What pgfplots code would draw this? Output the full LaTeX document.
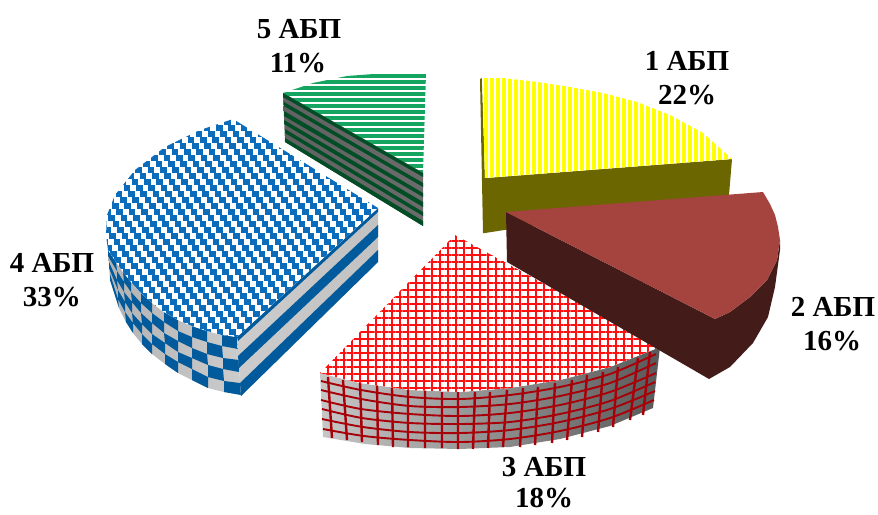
\documentclass[border=0pt]{standalone}
\usepackage{fontspec}
\setmainfont{Liberation Serif}
\usepackage{pgfplots}
\pgfplotsset{compat=1.18}
\usepackage{pgfplotstable}
\usetikzlibrary{patterns.meta}
\definecolor{yel}{HTML}{FFFF00}
\definecolor{olive}{HTML}{6B6600}
\definecolor{brickT}{HTML}{A5443F}
\definecolor{brickS}{HTML}{431C19}
\definecolor{redT}{HTML}{FF1010}
\definecolor{redS}{HTML}{A80008}
\definecolor{blueT}{HTML}{0B6CBB}
\definecolor{blueS}{HTML}{005A9C}
\definecolor{greenT}{HTML}{14A660}
\definecolor{greenS}{HTML}{004D26}
% --- slice outlines, in picture pixels
\pgfplotstableread{
x y
482 78
503 78
537 82
570 87
603 93
637 102
670 115
703 133
732 159
485 178
}\yellowtop
\pgfplotstableread{
x y
480 79
482 78
485 178
732 159
729 195
485 233
483 233
}\yellowside
\pgfplotstableread{
x y
283 93
313 83
347 76
387 73
426 73
423 173
}\greentop
\pgfplotstableread{
x y
378 208
237 337
222 335
207 331
192 326
178 320
164 312
152 303
141 293
131 282
123 272
116 262
108 250
106 235
107 215
115 195
135 170
165 147
200 130
233 119
}\bluetop
\pgfplotstableread{
x y
237 337
222 335
207 331
192 326
178 320
164 312
152 303
141 293
131 282
123 272
116 262
108 250
108 250
110 280
119 308
126 322
133 333
142 344
152 354
165 364
178 373
192 380
208 388
224 392
241 395
}\blueside
\pgfplotstableread{
x y
237 337
378 208
378 262
241 396
}\bluerad
\pgfplotstableread{
x y
455 235
320 373
360 383
410 390
460 392
510 388
560 380
610 367
660 347
}\redtop
\pgfplotstableread{
x y
320 373
360 383
410 390
460 392
510 388
560 380
610 367
660 347
653 408
610 426
560 439
510 447
460 449
410 448
365 444
323 437
}\redside
\pgfplotstableread{
x y
506 212
763 192
770 204
775 215
778 227
780 240
777 260
767 280
750 297
730 312
715 319
}\bricktop
\pgfplotstableread{
x y
506 212
715 319
730 312
750 297
767 280
777 260
780 240
780 250
775 287
768 317
753 343
730 367
709 379
507 262
}\brickside
\begin{document}
\begin{tikzpicture}
\path (0,0) rectangle (878pt,514pt);
\begin{axis}[
  at={(0,0)}, anchor=south west,
  scale only axis, width=878pt, height=514pt,
  xmin=0, xmax=878, ymin=0, ymax=514, y dir=reverse,
  hide axis, unbounded coords=jump,
]
% 1 ABP
\addplot[fill=olive,draw=none] table {\yellowside};
\addplot[fill=white,draw=none] table {\yellowtop};
\addplot[draw=none,pattern={Lines[angle=90,distance=6pt,line width=3.6pt]},pattern color=yel] table {\yellowtop};
% 5 ABP
\addplot[fill=white,draw=none] table {\greentop};
\addplot[draw=none,pattern={Lines[angle=0,distance=6pt,line width=3.2pt]},pattern color=greenT] table {\greentop};
\addplot[draw=none,left color=black!62,right color=black!58] coordinates {(283,93)(423,173)(423,226)(285,142)};
\addplot[draw=none,fill=greenS] coordinates {
(283,93)(423,173)(423,177)(283,97)(nan,nan)
(284,102)(423,183)(423,187)(284,106)(nan,nan)
(284,111)(423,193)(423,197)(284,116)(nan,nan)
(284,120)(423,202)(423,207)(284,124)(nan,nan)
(285,129)(423,212)(423,216)(285,133)(nan,nan)
(285,138)(423,221)(423,226)(285,142)};
% 4 ABP
\addplot[draw=none,left color=black!30,right color=black!20] table {\blueside};
\addplot[draw=none,fill=blueS] coordinates {
(237,337)(222,335)(222,346)(238,349)(nan,nan)
(239,360)(223,358)(223,369)(239,372)(nan,nan)
(240,383)(224,381)(224,392)(241,395)(nan,nan)
(222,346)(207,342)(207,354)(223,358)(nan,nan)
(223,369)(208,365)(208,377)(224,381)(nan,nan)
(207,331)(192,326)(192,337)(207,342)(nan,nan)
(207,354)(192,348)(192,358)(208,365)(nan,nan)
(208,377)(192,369)(192,380)(208,388)(nan,nan)
(192,337)(178,331)(178,341)(192,348)(nan,nan)
(192,358)(178,352)(178,362)(192,369)(nan,nan)
(178,320)(164,312)(164,322)(178,331)(nan,nan)
(178,341)(164,333)(165,343)(178,352)(nan,nan)
(178,362)(165,354)(165,364)(178,373)(nan,nan)
(164,322)(152,313)(152,323)(164,333)(nan,nan)
(165,343)(152,334)(152,344)(165,354)(nan,nan)
(152,303)(141,293)(141,303)(152,313)(nan,nan)
(152,323)(141,313)(142,324)(152,334)(nan,nan)
(152,344)(142,334)(142,344)(152,354)(nan,nan)
(141,303)(131,292)(132,302)(141,313)(nan,nan)
(142,324)(132,313)(133,323)(142,334)(nan,nan)
(131,282)(123,272)(124,282)(131,292)(nan,nan)
(132,302)(124,292)(125,302)(132,313)(nan,nan)
(133,323)(125,312)(126,322)(133,333)(nan,nan)
(124,282)(117,271)(117,280)(124,292)(nan,nan)
(125,302)(118,290)(118,299)(125,312)(nan,nan)
(116,262)(108,250)(108,256)(117,271)(nan,nan)
(117,280)(109,262)(109,268)(118,290)(nan,nan)
(118,299)(110,274)(110,280)(119,308)};
\addplot[draw=none,left color=black!20,right color=black!24] table {\bluerad};
\addplot[draw=none,fill=blueS] coordinates {
(237,337)(378,208)(378,212)(238,341)(nan,nan)
(238,356)(378,225)(378,237)(239,368)(nan,nan)
(240,383)(378,250)(378,262)(241,396)};
\addplot[fill=white,draw=none] table {\bluetop};
\begin{scope}
\clip (axis cs:378,208) -- (axis cs:237,337) -- (axis cs:222,335) -- (axis cs:207,331) -- (axis cs:192,326) -- (axis cs:178,320) -- (axis cs:164,312) -- (axis cs:152,303) -- (axis cs:141,293) -- (axis cs:131,282) -- (axis cs:123,272) -- (axis cs:116,262) -- (axis cs:108,250) -- (axis cs:106,235) -- (axis cs:107,215) -- (axis cs:115,195) -- (axis cs:135,170) -- (axis cs:165,147) -- (axis cs:200,130) -- (axis cs:233,119) -- cycle;
\addplot[blueT,line width=6pt,dash pattern=on 6.6pt off 5.8pt] coordinates {
(100,122)(385,122)(nan,nan)(104.4,128)(385,128)(nan,nan)
(96.4,134)(385,134)(nan,nan)(100.8,140)(385,140)(nan,nan)
(92.8,146)(385,146)(nan,nan)(97.2,152)(385,152)(nan,nan)
(89.2,158)(385,158)(nan,nan)(93.6,164)(385,164)(nan,nan)
(85.6,170)(385,170)(nan,nan)(90,176)(385,176)(nan,nan)
(82,182)(385,182)(nan,nan)(86.4,188)(385,188)(nan,nan)
(78.4,194)(385,194)(nan,nan)(82.8,200)(385,200)(nan,nan)
(74.8,206)(385,206)(nan,nan)(79.2,212)(385,212)(nan,nan)
(71.2,218)(385,218)(nan,nan)(75.6,224)(385,224)(nan,nan)
(67.6,230)(385,230)(nan,nan)(72,236)(385,236)(nan,nan)
(64,242)(385,242)(nan,nan)(68.4,248)(385,248)(nan,nan)
(60.4,254)(385,254)(nan,nan)(64.8,260)(385,260)(nan,nan)
(56.8,266)(385,266)(nan,nan)(61.2,272)(385,272)(nan,nan)
(53.2,278)(385,278)(nan,nan)(57.6,284)(385,284)(nan,nan)
(49.6,290)(385,290)(nan,nan)(54,296)(385,296)(nan,nan)
(46,302)(385,302)(nan,nan)(50.4,308)(385,308)(nan,nan)
(42.4,314)(385,314)(nan,nan)(46.8,320)(385,320)(nan,nan)
(38.8,326)(385,326)(nan,nan)(43.2,332)(385,332)(nan,nan)
(35.2,338)(385,338)};
\end{scope}
% 3 ABP
\addplot[draw=none,left color=black!22,middle color=black!35,right color=black!65] table {\redside};
\addplot[redS,line width=2.4pt] coordinates {
(328,377)(332,438)(nan,nan)(343,380)(347,440)(nan,nan)(360,382)(362,442)(nan,nan)
(377,385)(378,445)(nan,nan)(392,388)(393,447)(nan,nan)(408,390)(408,447)(nan,nan)
(425,390)(425,448)(nan,nan)(442,392)(442,448)(nan,nan)(458,392)(458,449)(nan,nan)
(475,392)(473,449)(nan,nan)(490,392)(488,448)(nan,nan)(507,390)(503,447)(nan,nan)
(523,388)(520,447)(nan,nan)(538,387)(535,445)(nan,nan)(555,383)(552,443)(nan,nan)
(572,380)(567,440)(nan,nan)(587,375)(582,437)(nan,nan)(603,372)(598,432)(nan,nan)
(618,367)(613,427)(nan,nan)(638,358)(630,420)(nan,nan)(650,352)(643,415)};
\addplot[redS,line width=1.9pt,smooth] coordinates {(321,381)(361,390)(410,397)(460,399)(510,395)(560,387)(610,374)(656,354)};
\addplot[redS,line width=1.9pt,smooth] coordinates {(321,390)(361,399)(410,406)(460,407)(510,404)(560,396)(610,383)(656,363)};
\addplot[redS,line width=1.9pt,smooth] coordinates {(321,400)(361,409)(410,414)(460,416)(510,413)(560,405)(610,392)(656,373)};
\addplot[redS,line width=1.9pt,smooth] coordinates {(322,409)(362,418)(410,423)(460,424)(510,422)(560,414)(610,401)(655,382)};
\addplot[redS,line width=1.9pt,smooth] coordinates {(322,419)(363,427)(410,432)(460,433)(510,430)(560,422)(610,409)(655,391)};
\addplot[redS,line width=1.9pt,smooth] coordinates {(323,429)(364,436)(410,440)(460,442)(510,439)(560,431)(610,418)(654,400)};
\addplot[fill=white,draw=none] table {\redtop};
\addplot[draw=none,pattern={Lines[angle=90,distance=8pt,line width=2.2pt]},pattern color=redT] table {\redtop};
\addplot[draw=none,pattern={Lines[angle=0,distance=7pt,line width=2.2pt]},pattern color=redT] table {\redtop};
% 2 ABP
\addplot[fill=brickS,draw=none] table {\brickside};
\addplot[fill=brickT,draw=none] table {\bricktop};
% labels
\tikzset{lab/.style={anchor=base,font=\fontsize{29}{33}\selectfont\bfseries,inner sep=0pt}}
\node[lab] at (axis cs:299,38) {5 АБП};
\node[lab] at (axis cs:298,72) {11\%};
\node[lab] at (axis cs:687,70) {1 АБП};
\node[lab] at (axis cs:687,104) {22\%};
\node[lab] at (axis cs:833,316) {2 АБП};
\node[lab] at (axis cs:832,350) {16\%};
\node[lab] at (axis cs:544,476) {3 АБП};
\node[lab] at (axis cs:544,507) {18\%};
\node[lab] at (axis cs:52,272) {4 АБП};
\node[lab] at (axis cs:52,306) {33\%};
\end{axis}
\end{tikzpicture}
\end{document}
